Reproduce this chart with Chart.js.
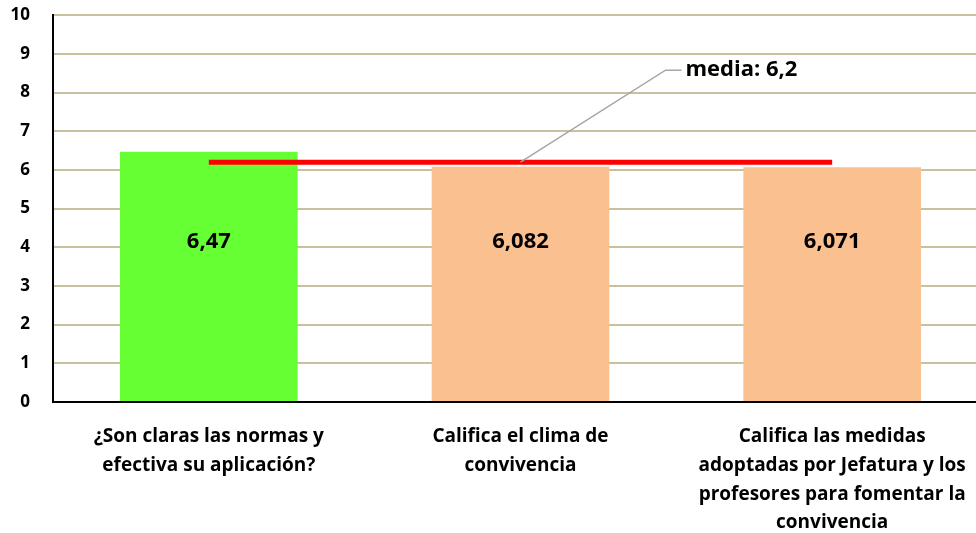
<!DOCTYPE html>
<html>
<head>
<meta charset="utf-8">
<script src="https://cdn.jsdelivr.net/npm/chart.js@4.4.1/dist/chart.umd.min.js"></script>
<style>
	html, body { margin: 0; padding: 0; background: #fff; overflow: hidden; }
	#wrap { width: 992px; height: 551px; position: relative; margin-top: -18px; }
</style>
</head>
<body>
<div id="wrap"><canvas id="chart"></canvas></div>
<script>
const categories = [
	['¿Son claras las normas y', 'efectiva su aplicación?'],
	['Califica el clima de', 'convivencia'],
	['Califica las medidas', 'adoptadas por Jefatura y los', 'profesores para fomentar la', 'convivencia'],
];
const scores = [6.47, 6.082, 6.071];
const scoreLabels = ['6,47', '6,082', '6,071'];
const mean = 6.2;
const meanLabel = 'media: 6,2';
const barColors = ['#66FF33', '#FAC090', '#FAC090'];

const labelFont = 'bold 22px "Open Sans", sans-serif';

const labelsPlugin = {
	id: 'labels',
	afterDatasetsDraw(chart) {
		const ctx = chart.ctx;
		const x = chart.scales.x;
		const y = chart.scales.y;
		ctx.save();
		ctx.font = labelFont;
		ctx.fillStyle = '#000';
		ctx.textAlign = 'center';
		ctx.textBaseline = 'middle';
		// value labels inside bars, roughly at the same height
		scores.forEach((v, i) => {
			ctx.fillText(scoreLabels[i], x.getPixelForValue(i), y.getPixelForValue(4.15));
		});
		// leader for the mean
		const sx = x.getPixelForValue(1);
		const sy = y.getPixelForValue(mean);
		const ey = y.getPixelForValue(8.58);
		const ex = sx + 145;
		ctx.strokeStyle = '#A6A6A6';
		ctx.lineWidth = 1.5;
		ctx.beginPath();
		ctx.moveTo(sx, sy);
		ctx.lineTo(ex, ey);
		ctx.lineTo(ex + 16, ey);
		ctx.stroke();
		ctx.textAlign = 'left';
		ctx.fillText(meanLabel, ex + 20, ey);
		ctx.restore();
	}
};

const config = {
	type: 'bar',
	data: {
		labels: categories,
		datasets: [{
			type: 'line',
			label: 'media',
			data: scores.map(() => mean),
			borderColor: '#FF0000',
			borderWidth: 5,
			pointRadius: 0,
			fill: false,
			order: 0,
		}, {
			label: 'valoración',
			data: scores,
			backgroundColor: barColors,
			categoryPercentage: 1,
			barPercentage: 0.57,
			order: 1,
		}]
	},
	options: {
		responsive: true,
		maintainAspectRatio: false,
		animation: false,
		layout: {
			padding: { top: 0, right: 4, left: 0, bottom: 0 }
		},
		plugins: {
			legend: { display: false },
			tooltip: { enabled: false },
		},
		scales: {
			y: {
				min: 0,
				max: 10,
				ticks: {
					stepSize: 1,
					color: '#000',
					font: { family: '"Open Sans"', weight: 'bold', size: 17 },
					padding: 23,
				},
				grid: {
					color: '#C9C0A0',
					lineWidth: 2,
					drawTicks: false,
				},
				border: { color: '#000', width: 2 },
				afterFit(scale) { scale.width = 53; },
			},
			x: {
				ticks: {
					color: '#000',
					font: { family: '"Open Sans"', weight: 'bold', size: 19, lineHeight: 1.52 },
					padding: 20,
					maxRotation: 0,
					autoSkip: false,
				},
				grid: { display: false, drawTicks: false },
				border: { color: '#000', width: 2 },
				afterFit(scale) { scale.height = 131; },
			}
		}
	},
	plugins: [labelsPlugin]
};

const chartCtx = document.getElementById('chart');
const chart = new Chart(chartCtx, config);
</script>
</body>
</html>
